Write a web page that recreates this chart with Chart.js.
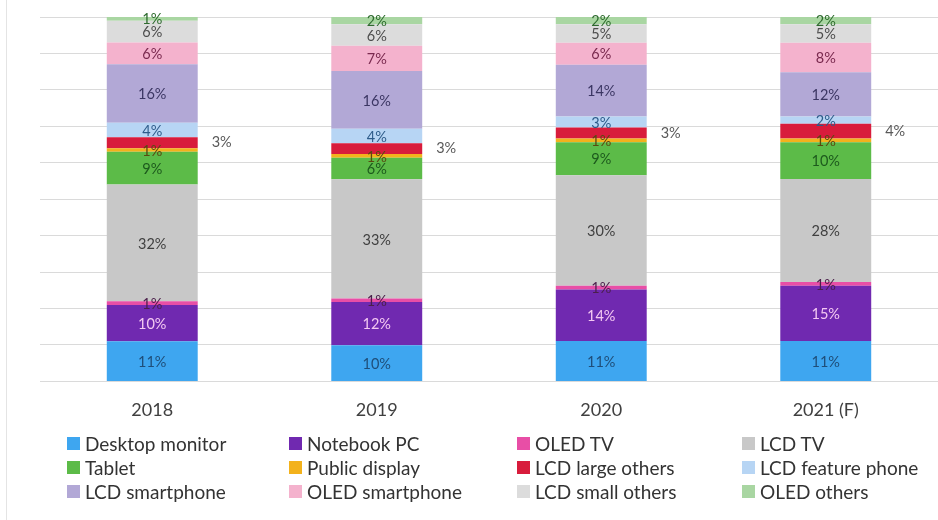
<!DOCTYPE html>
<html>
<head>
<meta charset="utf-8">
<script src="https://cdn.jsdelivr.net/npm/chart.js@4/dist/chart.umd.min.js"></script>
<style>
  html, body { margin: 0; padding: 0; background: #fff; }
  #wrap { position: relative; width: 938px; height: 520px; overflow: hidden; }
  #frame { position: absolute; left: 6px; top: 0; width: 1px; height: 520px; background: #e4e4e4; }
  #chart { position: absolute; left: 0; top: 0; }
  #legend { position: absolute; left: 0; top: 0; width: 938px; height: 520px; pointer-events: none;
            font-family: Lato, "Open Sans", sans-serif; font-size: 19px; color: #333; }
  .item { position: absolute; display: flex; align-items: center; white-space: nowrap; height: 24px; }
  .box { width: 13px; height: 13px; margin-right: 5px; }
</style>
</head>
<body>
<div id="wrap">
  <div id="frame"></div>
  <canvas id="chart" width="938" height="520"></canvas>
  <div id="legend"></div>
</div>
<script>
  // years on the x axis
  const years = ["2018", "2019", "2020", "2021 (F)"];

  // share of each panel application per year (%)
  const desktopMonitor   = [11, 10, 11, 11];
  const notebookPC       = [10, 12, 14, 15];
  const oledTV           = [1, 1, 1, 1];
  const lcdTV            = [32, 33, 30, 28];
  const tablet           = [9, 6, 9, 10];
  const publicDisplay    = [1, 1, 1, 1];
  const lcdLargeOthers   = [3, 3, 3, 4];
  const lcdFeaturePhone  = [4, 4, 3, 2];
  const lcdSmartphone    = [16, 16, 14, 12];
  const oledSmartphone   = [6, 7, 6, 8];
  const lcdSmallOthers   = [6, 6, 5, 5];
  const oledOthers       = [1, 2, 2, 2];

  const seriesNames = ["Desktop monitor", "Notebook PC", "OLED TV", "LCD TV", "Tablet", "Public display",
    "LCD large others", "LCD feature phone", "LCD smartphone", "OLED smartphone", "LCD small others", "OLED others"];
  const seriesValues = [desktopMonitor, notebookPC, oledTV, lcdTV, tablet, publicDisplay,
    lcdLargeOthers, lcdFeaturePhone, lcdSmartphone, oledSmartphone, lcdSmallOthers, oledOthers];

  const fillColors = ["#3ea6f0", "#7029b0", "#e84ea6", "#c8c8c8", "#5cbb48", "#f3b21c",
    "#d81c3c", "#b7d5f4", "#b2a8d6", "#f4b2cd", "#dcdcdc", "#a9d6a2"];
  const labelColors = ["#1f4e79", "#f4c8f2", "#4a1f4a", "#404040", "#1d5a1d", "#5a4a10",
    "#595959", "#2e5c8a", "#3b3663", "#7a2a4f", "#4d4d4d", "#2e6b2e"];

  // legend grid: 4 columns, 3 rows
  const legendCols = [67, 289, 517, 742];
  const legendRows = [431, 455, 479];

  // column totals, each bar is shown as 100%
  const totals = years.map((_, i) => seriesValues.reduce((s, arr) => s + arr[i], 0));

  const datasets = seriesNames.map((name, k) => ({
    label: name,
    data: seriesValues[k].map((v, i) => v / totals[i] * 100),
    raw: seriesValues[k],
    backgroundColor: fillColors[k],
    borderWidth: 0,
    barPercentage: 0.405,
    categoryPercentage: 1
  }));

  // value labels in the middle of each segment, LCD large others goes to the right
  const segmentLabels = {
    id: "segmentLabels",
    afterDatasetsDraw(chart) {
      const ctx = chart.ctx;
      ctx.save();
      ctx.font = "14.5px Lato";
      ctx.textBaseline = "middle";
      chart.data.datasets.forEach((ds, k) => {
        const meta = chart.getDatasetMeta(k);
        meta.data.forEach((bar, i) => {
          const txt = ds.raw[i] + "%";
          const yMid = (bar.y + bar.base) / 2;
          ctx.fillStyle = labelColors[k];
          if (k === 6) {
            ctx.textAlign = "left";
            ctx.fillText(txt, bar.x + bar.width / 2 + 14, yMid);
          } else {
            ctx.textAlign = "center";
            ctx.fillText(txt, bar.x, yMid + 1);
          }
        });
      });
      ctx.restore();
    }
  };

  new Chart(document.getElementById("chart"), {
    type: "bar",
    data: { labels: years, datasets: datasets },
    options: {
      responsive: false,
      animation: false,
      layout: { padding: { left: 40, right: 0, top: 17, bottom: 89 } },
      plugins: { legend: { display: false }, tooltip: { enabled: false } },
      scales: {
        x: {
          stacked: true,
          grid: { display: false },
          border: { display: false },
          ticks: { color: "#404040", font: { family: "Lato", size: 18 }, padding: 10 }
        },
        y: {
          stacked: true,
          min: 0,
          max: 100,
          ticks: { display: false, stepSize: 10 },
          grid: { color: "#dadada", lineWidth: 1, drawTicks: false },
          border: { display: false }
        }
      }
    },
    plugins: [segmentLabels]
  });

  // html legend
  const legend = document.getElementById("legend");
  seriesNames.forEach((name, k) => {
    const item = document.createElement("div");
    item.className = "item";
    item.style.left = legendCols[k % 4] + "px";
    item.style.top = legendRows[Math.floor(k / 4)] + "px";
    const box = document.createElement("span");
    box.className = "box";
    box.style.background = fillColors[k];
    item.appendChild(box);
    item.appendChild(document.createTextNode(name));
    legend.appendChild(item);
  });
</script>
</body>
</html>
